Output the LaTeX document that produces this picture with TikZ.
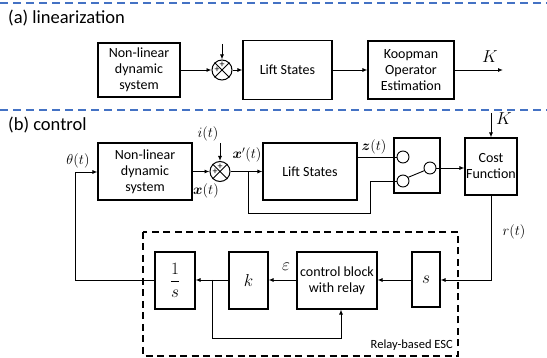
\documentclass[tikz,border=0pt]{standalone}
\usepackage{fontspec}
\setmainfont{Carlito}
\usepackage{amsmath,bm}
\usetikzlibrary{arrows.meta}
\definecolor{dblue}{RGB}{68,114,196}
\begin{document}
\begin{tikzpicture}[x=1pt,y=-1pt,
 blk/.style={draw, line width=1.1pt, align=center, inner sep=1pt, font=\fontsize{14}{16}\selectfont},
 ln/.style={line width=0.9pt},
 arr/.style={ln, -{Latex[length=5pt,width=4pt]}},
 sumj/.style={draw, circle, line width=1pt, minimum size=20pt, inner sep=0pt},
 swc/.style={draw, circle, line width=0.9pt, minimum size=12pt, inner sep=0pt},
 lbl/.style={font=\fontsize{14.5}{16}\selectfont, inner sep=1pt},
 big/.style={font=\fontsize{18}{20}\selectfont, inner sep=1pt},
 plus/.style={font=\fontsize{10}{10}\selectfont, inner sep=0pt},
 ttl/.style={font=\fontsize{18.5}{21}\selectfont, anchor=west, inner sep=0pt},
 bluesep/.style={draw=dblue, line width=1.2pt, dash pattern=on 8pt off 5pt},
]
\useasboundingbox (0,0) rectangle (547,358);
\draw[bluesep] (0,3) -- (547,3);
\draw[bluesep] (0,110) -- (547,110);
\node[ttl] (ta) at (8,18) {(a) linearization};
\node[ttl] (tb) at (8,125) {(b) control};

% ---------- (a)
\node[blk, minimum width=82pt, minimum height=54pt] (anl) at (139,70) {Non-linear\\dynamic\\system};
\node[sumj] (as) at (222,70) {};
\draw[line width=0.8pt] (as.45)--(as.225) (as.135)--(as.315);
\node[plus] (asp1) at ([yshift=5pt]as.center) {+};
\node[plus] (asp2) at ([xshift=-5pt]as.center) {+};
\coordinate (ain) at (222,44);
\draw[arr] (ain) -- (as.north);
\draw[arr] (anl.east) -- (as.west);
\node[blk, minimum width=89pt, minimum height=59pt] (alift) at (287.5,70) {Lift States};
\draw[arr] (as.east) -- (alift.west);
\node[blk, minimum width=86pt, minimum height=58pt] (akp) at (411,70) {Koopman\\Operator\\Estimation};
\draw[arr] (alift.east) -- (akp.west);
\coordinate (aout) at (503,70);
\draw[arr] (akp.east) -- (aout);
\node[big] (aK) at (490,57) {$K$};

% ---------- (b)
\node[blk, minimum width=94pt, minimum height=57pt] (bnl) at (145,171.5) {Non-linear\\dynamic\\system};
\node[sumj] (bs) at (220,171.5) {};
\draw[line width=0.8pt] (bs.45)--(bs.225) (bs.135)--(bs.315);
\node[plus] (bsp1) at ([yshift=5pt]bs.center) {+};
\node[plus] (bsp2) at ([xshift=-5pt]bs.center) {+};
\coordinate (bin) at (220,143);
\draw[arr] (bin) -- (bs.north);
\node[lbl] (li) at (208,134) {$i(t)$};
\node[lbl] (lxp) at (247,155) {$\bm{x}'(t)$};
\node[lbl] (lx) at (206,191) {$\bm{x}(t)$};
\draw[arr] (bnl.east |- bs) -- (bs.west);
\node[blk, minimum width=94pt, minimum height=57pt] (blift) at (310,171.5) {Lift States};
\draw[arr] (bs.east) -- (blift.west |- bs);

% switch
\node[draw, line width=1.1pt, minimum width=46pt, minimum height=55pt] (sw) at (417,165.5) {};
\node[swc] (swu) at (403,157) {};
\node[swc] (swl) at (403,181) {};
\node[swc] (swr) at (430,168) {};
\draw[ln] (swl.35) -- (swr.205);
\draw[ln] (blift.east |- swu) -- (swu.west);
\node[lbl] (lz) at (374,147) {$\bm{z}(t)$};
\coordinate (br1) at (248,171.5);
\coordinate (br2) at (248,213);
\coordinate (br3) at (370,213);
\coordinate (br4) at (370,181);
\draw[ln] (br1) -- (br2) -- (br3) -- (br4) -- (swl.west);

% cost
\node[blk, minimum width=52pt, minimum height=57pt] (cost) at (491,166.5) {Cost\\Function};
\draw[arr] (swr.east) -- (swr.east -| cost.west);
\coordinate (kin) at (491,113);
\draw[arr] (kin) -- (cost.north);
\node[big] (bK) at (504,119) {$K$};

% ESC
\draw[line width=1.4pt, dash pattern=on 7pt off 4.5pt] (143,232) rectangle (458,356);
\node[font=\fontsize{12.5}{14}\selectfont, anchor=south east, inner sep=0pt] (lesc) at (453,351) {Relay-based ESC};
\node[blk, minimum width=28pt, minimum height=55pt, font=\fontsize{18}{20}\selectfont] (sbox) at (426,279.5) {$s$};
\node[blk, minimum width=80pt, minimum height=57pt] (cbox) at (337,280.5) {control block\\with relay};
\node[blk, minimum width=39pt, minimum height=57pt, font=\fontsize{18}{20}\selectfont] (kbox) at (248.5,280.5) {$k$};
\node[blk, minimum width=40pt, minimum height=57pt, font=\fontsize{18}{20}\selectfont] (ibox) at (175,280.5) {$\dfrac{1}{s}$};

\coordinate (r1) at (491,280);
\draw[arr] (cost.south) -- (r1) -- (sbox.east |- r1);
\node[lbl] (lr) at (514,232) {$r(t)$};
\draw[arr] (sbox.west |- r1) -- (cbox.east |- r1);
\draw[arr] (cbox.west |- r1) -- (kbox.east |- r1);
\node[big] (leps) at (286,267) {$\varepsilon$};
\draw[arr] (kbox.west |- r1) -- (ibox.east |- r1);
\coordinate (c1) at (212,280);
\coordinate (c2) at (212,338);
\coordinate (c3) at (341,338);
\draw[arr] (c1) -- (c2) -- (c3) -- (c3 |- cbox.south);
\coordinate (f1) at (75,280);
\coordinate (f2) at (75,172);
\draw[arr] (ibox.west |- r1) -- (f1) -- (f2) -- (bnl.west |- f2);
\node[lbl] (lth) at (78,161) {$\theta(t)$};
\end{tikzpicture}
\end{document}
